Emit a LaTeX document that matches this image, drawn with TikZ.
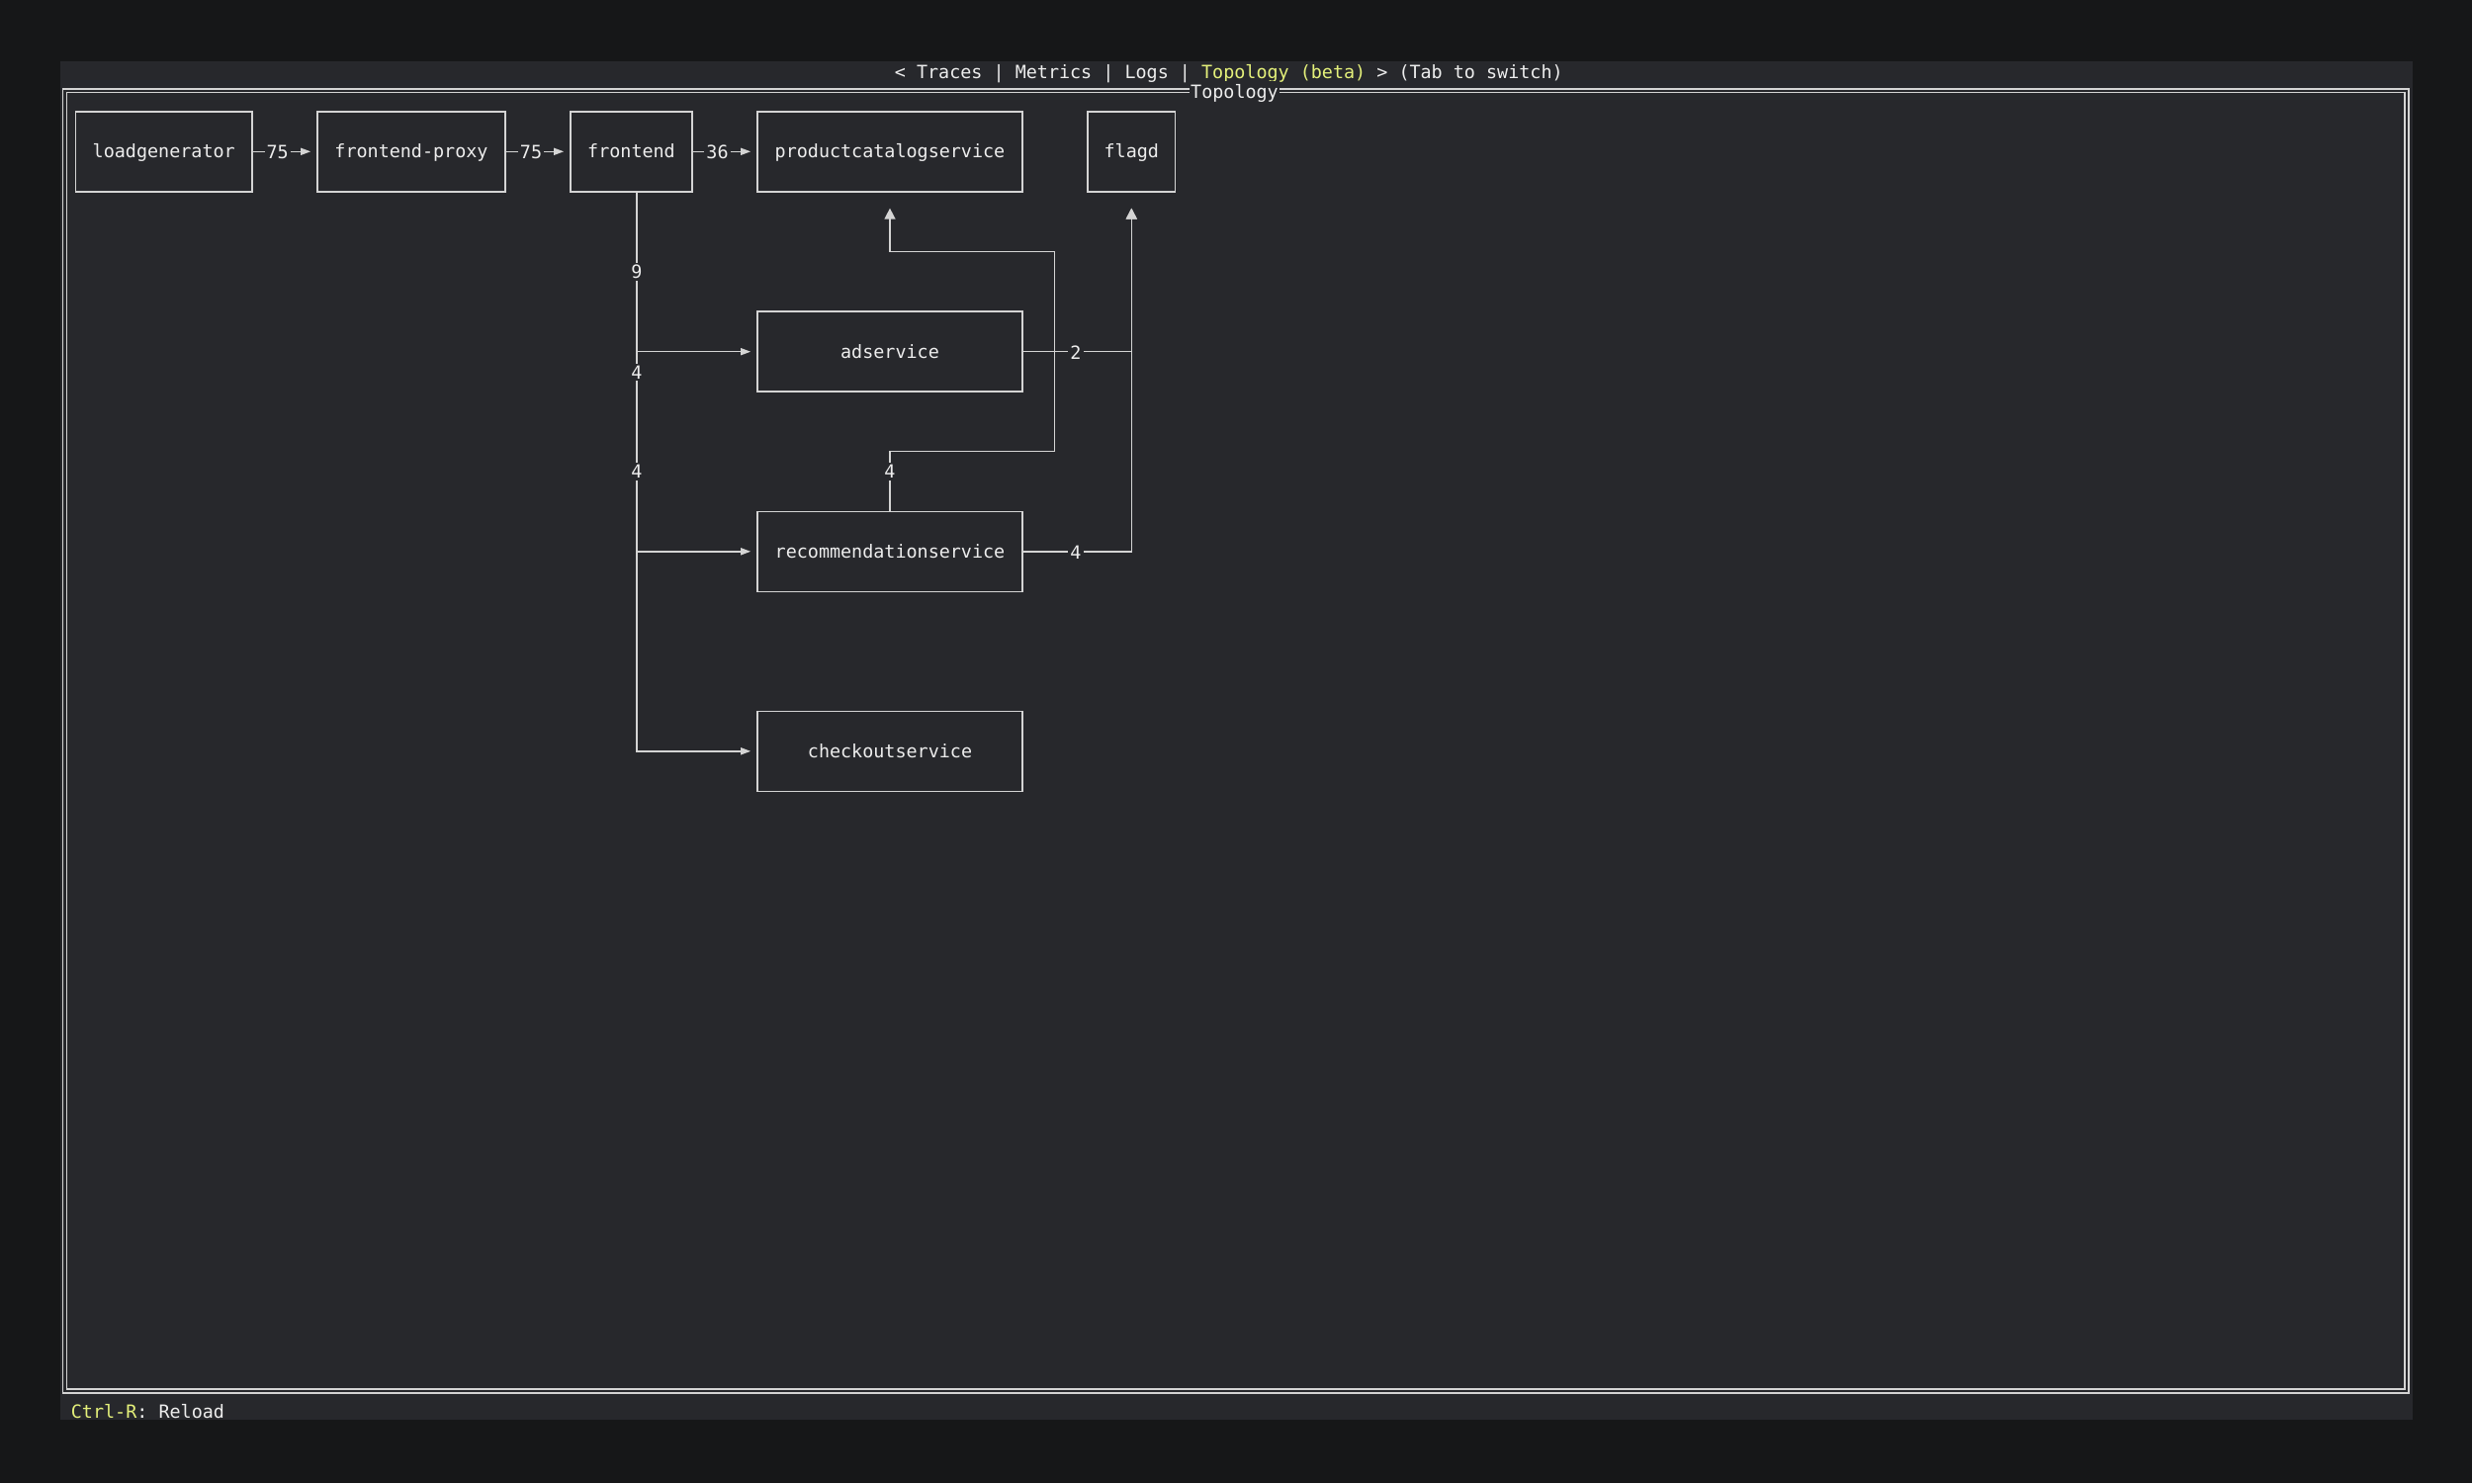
\documentclass[tikz,border=0pt]{standalone}
\usepackage{fontspec}
\setmonofont{DejaVu Sans Mono}
\usetikzlibrary{arrows.meta}
\definecolor{bgout}{HTML}{161718}
\definecolor{panel}{HTML}{27282C}
\definecolor{ln}{HTML}{D4D4D4}
\definecolor{txt}{HTML}{EDEDED}
\definecolor{ylw}{HTML}{E4F07A}
\tikzset{
  box/.style={draw=ln, line width=1.6pt, fill=panel, text=txt, minimum height=81pt,
    inner sep=0pt, text height=16pt, text depth=3pt},
  edge/.style={draw=ln, line width=1.4pt, -{Triangle[length=10pt,width=7pt]}},
  upedge/.style={draw=ln, line width=1.4pt, -{Triangle[length=11pt,width=11pt]}},
  elab/.style={fill=panel, text=txt, inner xsep=2pt, inner ysep=2pt},
  frameline/.style={draw=ln, line width=1.4pt},
}
\begin{document}
\begin{tikzpicture}[x=1pt,y=-1pt,font=\ttfamily\fontsize{18.4}{22}\selectfont]
\useasboundingbox (0,0) rectangle (2500,1500);
\fill[bgout] (0,0) rectangle (2500,1500);
\fill[panel] (60.6,62) rectangle (2440,1435.7);
% header
\node[anchor=base, text=txt, inner sep=0pt] (header) at (1242.8,79.2)
  {< Traces | Metrics | Logs | \textcolor{ylw}{Topology (beta)} > (Tab to switch)};
% double frame
\draw[frameline] (63.5,90) rectangle (2436,1409);
\draw[frameline] (67.5,93.5) rectangle (2432,1405);
\node[anchor=base, fill=panel, text=txt, inner xsep=1pt, inner ysep=3pt] (ftitle) at (1248.5,99.5) {Topology};
% status
\node[anchor=base west, text=txt, inner sep=0pt] (status) at (71.7,1434)
  {\textcolor{ylw}{Ctrl-R}: Reload};

% nodes
\node[box, minimum width=178.5pt] (loadgen) at (165.75,153.3) {loadgenerator};
\node[box, minimum width=190pt] (fproxy) at (416,153.3) {frontend-proxy};
\node[box, minimum width=123pt] (frontend) at (638.5,153.3) {frontend};
\node[box, minimum width=268pt] (prodcat) at (900,153.3) {productcatalogservice};
\node[box, minimum width=88.6pt] (flagd) at (1144.3,153.3) {flagd};
\node[box, minimum width=268pt] (adservice) at (900,355.7) {adservice};
\node[box, minimum width=268pt] (rec) at (900,557.8) {recommendationservice};
\node[box, minimum width=268pt] (checkout) at (900,759.8) {checkoutservice};

\coordinate (trunk) at (644,0);
\coordinate (j1) at (1066.5,456.3);
\coordinate (j2) at (1066.5,254.3);

% edges
\draw[edge, shorten >=6pt] (loadgen.east) -- (fproxy.west);
\draw[edge, shorten >=6pt] (fproxy.east) -- (frontend.west);
\draw[edge, shorten >=6pt] (frontend.east) -- (prodcat.west);
\draw[edge, shorten >=6pt] (frontend.south -| trunk) |- (checkout.west);
\draw[edge, shorten >=6pt] (frontend.south -| trunk) |- (rec.west);
\draw[edge, shorten >=6pt] (frontend.south -| trunk) |- (adservice.west);
\draw[upedge, shorten >=16pt] (adservice.east) -| (flagd.south);
\draw[upedge, shorten >=16pt] (rec.east) -| (flagd.south);
\draw[upedge, shorten >=16pt] (rec.north) |- (j1) -- (j2) -| (prodcat.south);

% edge labels
\node[elab] (l1) at (280.6,154) {75};
\node[elab] (l2) at (537,154) {75};
\node[elab] (l3) at (725.5,154) {36};
\node[elab] (l4) at (644,275) {9};
\node[elab] (l5) at (644,376.5) {4};
\node[elab] (l6) at (644,477) {4};
\node[elab] (l7) at (900,477) {4};
\node[elab] (l8) at (1088,356.5) {2};
\node[elab] (l9) at (1088,558.5) {4};
\end{tikzpicture}
\end{document}
